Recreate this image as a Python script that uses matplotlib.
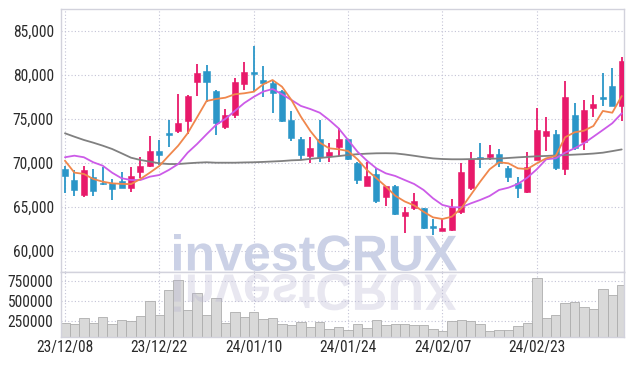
import matplotlib
matplotlib.use('Agg')
import matplotlib.pyplot as plt
from matplotlib.textpath import TextPath
from matplotlib.patches import PathPatch
from matplotlib.font_manager import FontProperties
from matplotlib import font_manager as fm
from matplotlib.transforms import Affine2D, IdentityTransform
from matplotlib.ticker import FuncFormatter, FixedLocator
import numpy as np

# ---------------- data ----------------
dates = ['23/12/08', '23/12/11', '23/12/12', '23/12/13', '23/12/14', '23/12/15', '23/12/18', '23/12/19',
         '23/12/20', '23/12/21', '23/12/22', '23/12/26', '23/12/27', '23/12/28', '24/01/02', '24/01/03',
         '24/01/04', '24/01/05', '24/01/08', '24/01/09', '24/01/10', '24/01/11', '24/01/12', '24/01/15',
         '24/01/16', '24/01/17', '24/01/18', '24/01/19', '24/01/22', '24/01/23', '24/01/24', '24/01/25',
         '24/01/26', '24/01/29', '24/01/30', '24/01/31', '24/02/01', '24/02/02', '24/02/05', '24/02/06',
         '24/02/07', '24/02/08', '24/02/13', '24/02/14', '24/02/15', '24/02/16', '24/02/19', '24/02/20',
         '24/02/21', '24/02/22', '24/02/23', '24/02/26', '24/02/27', '24/02/28', '24/02/29', '24/03/04',
         '24/03/05', '24/03/06', '24/03/07', '24/03/08']

opens = [69260, 68040, 66390, 68390, 67740, 67740, 67890, 67100, 68990, 69670,
         71310, 73390, 73650, 74800, 79230, 80410, 78170, 74110, 75440, 78940,
         80330, 79420, 79120, 78210, 74870, 72710, 70780, 72710, 70780, 71830,
         72710, 70010, 67400, 68730, 66080, 67400, 63980, 64820, 64820, 62840,
         62270, 62350, 64430, 67170, 70630, 70700, 70970, 69410, 67740, 66680,
         70320, 73090, 73280, 69260, 75440, 72330, 76200, 77460, 78740, 76500]
highs = [69670, 69180, 69640, 69300, 69490, 68120, 68990, 69490, 70630, 73050,
         72600, 74870, 77830, 77720, 81210, 81130, 78290, 76120, 79690, 81440,
         83290, 81020, 79420, 78290, 75860, 72970, 72970, 74870, 72220, 74010,
         72750, 70130, 70130, 69410, 67400, 67420, 64940, 66530, 64900, 63600,
         63600, 65850, 69940, 71260, 72220, 72030, 71540, 69580, 68330, 71260,
         76180, 75180, 73730, 79340, 76770, 77150, 77720, 80190, 80760, 82010]
lows = [66600, 66260, 66110, 66260, 67480, 65770, 67080, 66640, 68240, 69490,
        69800, 71830, 73360, 73280, 77640, 76950, 73170, 73850, 75130, 78290,
        78090, 77520, 75630, 74680, 72520, 70320, 69940, 70060, 70060, 70810,
        70300, 67590, 67400, 65390, 65090, 64100, 61980, 64630, 62470, 61770,
        62270, 62240, 64160, 66910, 69380, 70320, 69490, 67850, 65960, 66510,
        70300, 71340, 69180, 68610, 71460, 71460, 75180, 76470, 76500, 74760]
closes = [68530, 66910, 69180, 66830, 67530, 66990, 67170, 68500, 69640, 71380,
          70890, 73170, 74530, 77600, 80190, 79230, 74570, 75410, 79160, 80300,
          80140, 79120, 77980, 74790, 72820, 70890, 71720, 70700, 71200, 72680,
          70400, 68040, 68500, 65690, 67360, 64140, 64370, 65650, 62620, 62620,
          62550, 65010, 68910, 70400, 70400, 71000, 69980, 68330, 67080, 69490,
          73730, 73620, 69440, 77460, 71720, 76010, 76690, 77260, 76500, 81590]
volumes = [215000, 202000, 277000, 215000, 290000, 202000, 252000, 240000, 302000, 494000,
           315000, 627000, 756000, 377000, 594000, 315000, 527000, 215000, 352000, 290000,
           352000, 265000, 277000, 202000, 190000, 227000, 165000, 227000, 140000, 165000,
           127000, 202000, 152000, 252000, 190000, 202000, 202000, 190000, 190000, 140000,
           115000, 240000, 252000, 240000, 202000, 115000, 127000, 127000, 177000, 215000,
           777000, 277000, 315000, 465000, 477000, 415000, 390000, 640000, 565000, 690000]
ma5 = [70240, 68880, 68730, 68160, 67850, 67660, 67600, 67570, 68160, 68880,
       69640, 70810, 71950, 73360, 75180, 77030, 77260, 77410, 77800, 77910,
       78090, 78930, 79420, 78660, 77150, 75250, 73620, 72290, 71650, 71540,
       71340, 70400, 69180, 68250, 67300, 66250, 65600, 65150, 64430, 63790,
       63600, 63870, 64820, 66340, 67850, 69260, 70060, 69940, 69370, 69290,
       69940, 70510, 70780, 72900, 73470, 73650, 74190, 75900, 75700, 77600]
ma10 = [70630, 70810, 70630, 70060, 69670, 68870, 68240, 68040, 68040, 68420,
        68610, 69180, 69860, 71150, 72140, 73240, 74300, 75000, 75900, 76800,
        77500, 78100, 78400, 77800, 77150, 76470, 76120, 75700, 74870, 73920,
        72600, 71260, 70240, 69370, 68800, 68500, 68040, 67590, 66910, 65960,
        65200, 64940, 64940, 65380, 65770, 66220, 66910, 67170, 67590, 68310,
        69260, 70400, 70510, 71150, 71650, 72220, 72970, 73730, 74500, 75630]
ma60 = [73360, 72970, 72600, 72290, 71950, 71570, 71080, 70580, 70320, 70130,
        69940, 69860, 69860, 69940, 70010, 70060, 70010, 70010, 70010, 70040,
        70060, 70100, 70150, 70200, 70280, 70320, 70450, 70550, 70650, 70760,
        70890, 70980, 71040, 71080, 71090, 71070, 70950, 70800, 70640, 70500,
        70430, 70400, 70400, 70420, 70440, 70460, 70480, 70550, 70620, 70680,
        70740, 70780, 70830, 70880, 70930, 70980, 71050, 71150, 71330, 71520]
price_ticks = [60000, 65000, 70000, 75000, 80000, 85000]
volume_ticks = [250000, 500000, 750000]
tick_step = 10
watermark = 'investCRUX'

# ---------------- fonts ----------------
def _is_regular(e):
    try:
        w = int(e.weight)
    except (TypeError, ValueError):
        w = 400 if str(e.weight).lower() in ('normal', 'regular', 'book') else 700
    return e.style == 'normal' and 350 <= w <= 520


def pick_narrow_font():
    ents = fm.fontManager.ttflist
    prefs = ['Liberation Sans Narrow', 'Arial Narrow', 'Roboto Condensed', 'Open Sans Condensed',
             'Noto Sans Condensed', 'DejaVu Sans Condensed', 'Noto Sans Display Condensed']
    for name in prefs:
        for e in ents:
            if e.name == name and _is_regular(e):
                return e.fname
    for fam in ['Noto Sans', 'Roboto', 'Open Sans', 'DejaVu Sans', 'Inter', 'Liberation Sans']:
        for st in ('condensed', 'semi-condensed', 'extra-condensed'):
            for e in ents:
                if e.name == fam and str(e.stretch) == st and _is_regular(e):
                    return e.fname
    for e in ents:
        low = (e.name + ' ' + e.fname).lower()
        if ('narrow' in low or 'condensed' in low) and 'mono' not in low and 'serif' not in low \
                and _is_regular(e):
            return e.fname
    return None


narrow = pick_narrow_font()
if narrow is not None:
    LABEL_FP = FontProperties(fname=narrow, size=11.2)
else:
    LABEL_FP = FontProperties(family=['Liberation Sans', 'DejaVu Sans'], size=9.3)

# ---------------- style ----------------
UP = '#e8196a'
DOWN = '#2b96c8'
GRID = '#c3c3d6'
SPINE = '#d2d2dc'
TXT = '#2b2b2b'

W, H = 634, 366
fig = plt.figure(figsize=(W / 100, H / 100), dpi=100)
fig.patch.set_facecolor('white')


def rect(l, t, r, b):
    return [l / W, 1 - b / H, (r - l) / W, (b - t) / H]


axp = fig.add_axes(rect(61, 9.3, 623.7, 272))
axv = fig.add_axes(rect(61, 272, 623.7, 337.3), sharex=axp)

x = np.arange(len(dates))
o = np.array(opens, float)
c = np.array(closes, float)
hi = np.array(highs, float)
lo = np.array(lows, float)
up = c >= o
cols = np.where(up, UP, DOWN)

# watermark (main) in price panel
fp = FontProperties(family=['Liberation Sans', 'DejaVu Sans'], weight='bold')
tp = TextPath((0, 0), watermark, prop=fp, size=50)
ext = tp.get_extents()
wx0, wx1 = 174, 457
wtop, wbot = 234, 271
sx = (wx1 - wx0) / ext.width
sy = (wbot - wtop) / ext.height
tr_main = Affine2D().translate(-ext.x0, -ext.y0).scale(sx, sy).translate(wx0, H - wbot)
pm = PathPatch(tr_main.transform_path(tp), facecolor='#cbd1e6', edgecolor='none',
               transform=IdentityTransform(), zorder=0.8)
axp.add_patch(pm)

# candles
axp.vlines(x, lo, hi, colors=cols, linewidth=1.3, zorder=2)
body_bottom = np.minimum(o, c)
body_h = np.maximum(np.abs(c - o), 160)
axp.bar(x, body_h, bottom=body_bottom, width=0.64, color=cols, edgecolor=cols,
        linewidth=0.4, zorder=3)

# moving averages
axp.plot(x, ma60, color='#808080', lw=1.3, zorder=4, solid_capstyle='round')
axp.plot(x, ma10, color='#cc5be8', lw=1.3, zorder=4, solid_capstyle='round')
axp.plot(x, ma5, color='#f0874c', lw=1.3, zorder=4, solid_capstyle='round')

xticks = x[::tick_step]
xlabels = dates[::tick_step]

axp.set_xlim(-0.42, len(dates) - 1 + 0.21)
axp.set_ylim(57570, 87470)
axp.yaxis.set_major_locator(FixedLocator(price_ticks))
axp.yaxis.set_major_formatter(FuncFormatter(lambda v, p: f'{int(v):,}'))
axp.xaxis.set_major_locator(FixedLocator(xticks))
axp.grid(True, color=GRID, linestyle=(0, (1, 2)), linewidth=0.8, zorder=0.5)
axp.set_axisbelow(True)
axp.tick_params(axis='x', labelbottom=False, length=0)
axp.tick_params(axis='y', length=0, pad=5.2, colors=TXT)

# volume
axv.bar(x, volumes, width=1.0, color='#d9d9d9', edgecolor='#adadad', linewidth=0.6, zorder=2)
axv.set_ylim(40000, 858000)
axv.yaxis.set_major_locator(FixedLocator(volume_ticks))
axv.yaxis.set_major_formatter(FuncFormatter(lambda v, p: f'{int(v)}'))
axv.set_xticks(xticks)
axv.set_xticklabels(xlabels)
axv.grid(True, color=GRID, linestyle=(0, (1, 2)), linewidth=0.8, zorder=0.5)
axv.set_axisbelow(True)
axv.tick_params(axis='both', length=0, colors=TXT)
axv.tick_params(axis='y', pad=5.6)
axv.tick_params(axis='x', pad=2.2)

fig.canvas.draw()
for lab in axp.get_yticklabels() + axv.get_yticklabels() + axv.get_xticklabels():
    lab.set_fontproperties(LABEL_FP)
    lab.set_color(TXT)

# reflection of the watermark
tr_ref = Affine2D().translate(-ext.x0, -ext.y0).scale(sx, -sy * 1.02).translate(wx0, H - 274)
pr = PathPatch(tr_ref.transform_path(tp), facecolor='#b4b0d0', edgecolor='none', alpha=0.3,
               transform=IdentityTransform(), zorder=3)
axv.add_patch(pr)

for ax in (axp, axv):
    for s in ax.spines.values():
        s.set_color(SPINE)
        s.set_linewidth(1.0)

fig.savefig('out.png', dpi=100, facecolor='white')
